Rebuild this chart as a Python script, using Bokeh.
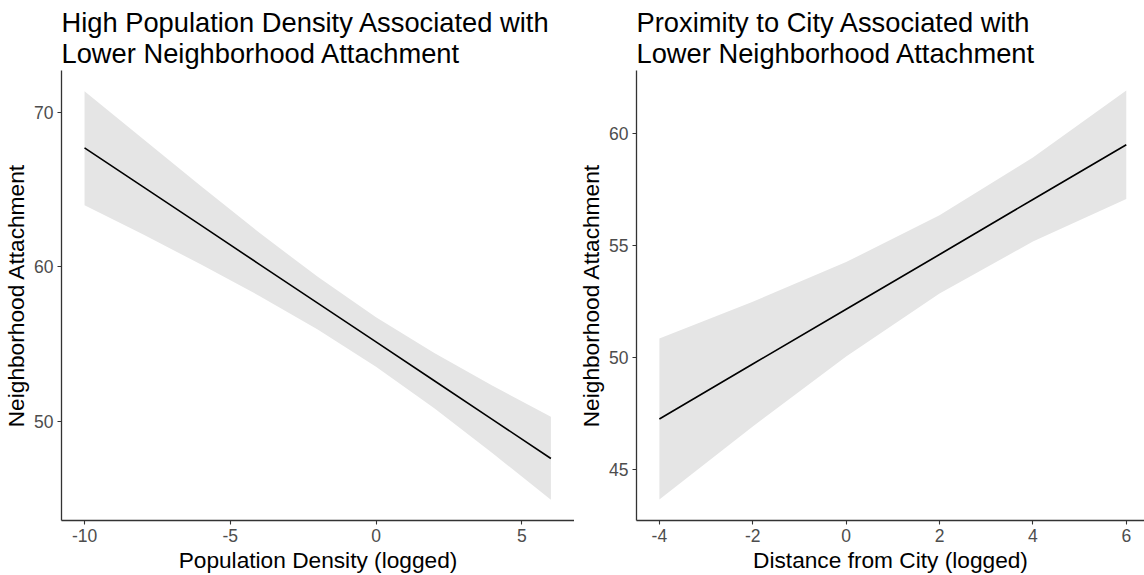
from bokeh.plotting import figure
from bokeh.layouts import row
from bokeh.models import FixedTicker
from bokeh.embed import file_html
from bokeh.resources import INLINE

# Left panel: population density (logged)
density_x = [-10, -8, -6, -4, -2, 0, 2, 4, 6]
density_fit = [67.70, 65.19, 62.68, 60.16, 57.65, 55.14, 52.63, 50.12, 47.60]
density_upper = [71.35, 68.28, 65.21, 62.20, 59.35, 56.74, 54.42, 52.30, 50.30]
density_lower = [63.98, 62.10, 60.15, 58.12, 55.95, 53.54, 50.85, 47.94, 44.93]
density_xticks = [-10, -5, 0, 5]
density_yticks = [50, 60, 70]

# Right panel: distance from city (logged)
distance_x = [-4, -2, 0, 2, 4, 6]
distance_fit = [47.24, 49.70, 52.15, 54.60, 57.06, 59.51]
distance_upper = [50.84, 52.49, 54.26, 56.35, 58.94, 61.94]
distance_lower = [43.64, 46.91, 50.04, 52.85, 55.18, 57.08]
distance_xticks = [-4, -2, 0, 2, 4, 6]
distance_yticks = [45, 50, 55, 60]

FONT = "Liberation Sans"


def make_panel(title, xlabel, xs, fit, up, lo, xticks, yticks, xr, yr, width, left):
    p = figure(width=width, height=575, x_range=xr, y_range=yr,
               output_backend="svg", toolbar_location=None,
               min_border_left=left, min_border_right=0,
               min_border_top=70, min_border_bottom=49)
    p.title.text = title
    p.title.text_font = FONT
    p.title.text_font_size = "27.3px"
    p.title.text_font_style = "normal"
    p.title.text_color = "#000000"
    p.title.align = "left"
    p.title.standoff = 4
    p.outline_line_color = None
    p.background_fill_color = "white"
    p.border_fill_color = "white"
    p.xgrid.visible = False
    p.ygrid.visible = False

    p.varea(x=xs, y1=lo, y2=up, fill_color="#E5E5E5", fill_alpha=1.0)
    p.line(x=xs, y=fit, line_color="black", line_width=1.6)

    p.xaxis.ticker = FixedTicker(ticks=xticks)
    p.yaxis.ticker = FixedTicker(ticks=yticks)
    p.xaxis.major_label_overrides = {t: str(t) for t in xticks}
    p.yaxis.major_label_overrides = {t: str(t) for t in yticks}
    p.xaxis.axis_label = xlabel
    p.yaxis.axis_label = "Neighborhood Attachment"
    for ax in (p.xaxis, p.yaxis):
        ax.axis_label_text_font = FONT
        ax.axis_label_text_font_size = "22.7px"
        ax.axis_label_text_font_style = "normal"
        ax.axis_label_text_color = "#000000"
        ax.major_label_text_font = FONT
        ax.major_label_text_font_size = "17.5px"
        ax.major_label_text_color = "#4D4D4D"
        ax.axis_line_color = "#333333"
        ax.axis_line_width = 1.3
        ax.major_tick_line_color = "#333333"
        ax.major_tick_line_width = 1.1
        ax.major_tick_out = 4
        ax.major_tick_in = 0
        ax.minor_tick_line_color = None
        ax.major_label_standoff = 4
        ax.axis_label_standoff = 2
    return p


p1 = make_panel("High Population Density Associated with\n Lower Neighborhood Attachment",
                "Population Density (logged)",
                density_x, density_fit, density_upper, density_lower,
                density_xticks, density_yticks,
                (-10.79, 6.81), (43.59, 72.7), 574, 60)
p2 = make_panel("Proximity to City Associated with\n Lower Neighborhood Attachment",
                "Distance from City (logged)",
                distance_x, distance_fit, distance_upper, distance_lower,
                distance_xticks, distance_yticks,
                (-4.49, 6.39), (42.7, 62.83), 570, 62)

layout = row(p1, p2)
open("out.html", "w").write(file_html(layout, INLINE))
